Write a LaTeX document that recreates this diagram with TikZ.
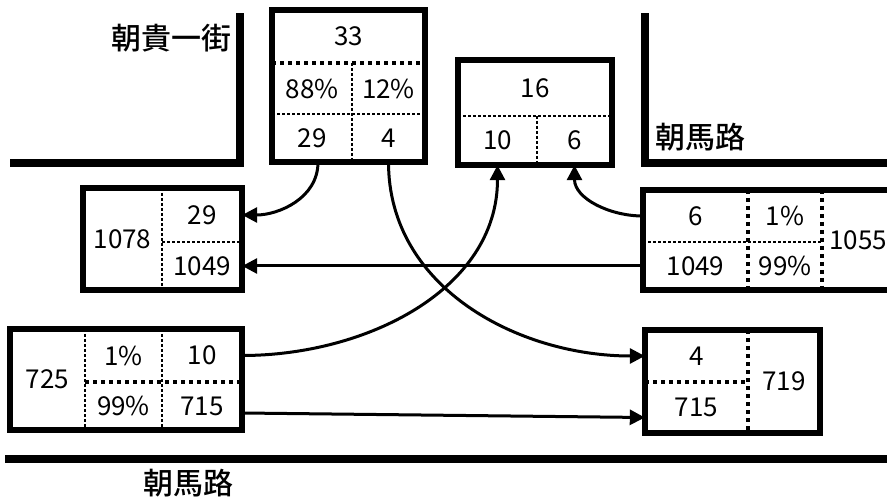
\documentclass[tikz,border=0pt]{standalone}
\usepackage{fontspec}
\newfontfamily\cjk{Noto Sans CJK TC}
\newfontfamily\cjkmed{Noto Sans CJK TC Medium}
\usetikzlibrary{arrows.meta}

\begin{document}
\begin{tikzpicture}[x=1pt,y=-1pt,
    street/.style={line width=8.5pt},
    boxline/.style={line width=6pt},
    dotrule/.style={line width=4pt, dash pattern=on 4pt off 4pt},
    dashrule/.style={line width=2.5pt, dash pattern=on 3pt off 2pt},
    cell/.style 2 args={inner sep=0pt, minimum width=#1pt, minimum height=#2pt,
        font=\cjk\fontsize{26}{26}\selectfont},
    road/.style={inner sep=0pt, font=\cjkmed\fontsize{30}{30}\selectfont},
    flow/.style={line width=3pt, -{Triangle[length=15pt,width=15pt]}}]
    % --- Frame (pixel units, y downwards) ---
    \useasboundingbox (0,0) rectangle (887,497);
    \clip (0,0) rectangle (887,497);

    % --- Streets ---
    \draw[street] (10,163) -- (240,163) -- (240,13);
    \draw[street] (887,163) -- (645,163) -- (645,13);
    \draw[street] (5,459) -- (887,459);
    \node[road] (streetA) at (171,38) {朝貴一街};
    \node[road] (streetB) at (700,137) {朝馬路};
    \node[road] (streetC) at (188,483) {朝馬路};

    % --- Box A (top, 33) ---
    \draw[boxline] (272,10) rectangle (425,162);
    \draw[dotrule] (272,63) -- (425,63);
    \draw[dashrule] (272,114) -- (425,114);
    \draw[dashrule] (352,63) -- (352,162);
    \node[cell={153}{53}] (a33) at (348.5,36.5) {33};
    \node[cell={80}{51}] (a88) at (312,88.5) {88\%};
    \node[cell={73}{51}] (a12) at (388.5,88.5) {12\%};
    \node[cell={80}{48}] (a29) at (312,138) {29};
    \node[cell={73}{48}] (a4) at (388.5,138) {4};

    % --- Box B (top, 16) ---
    \draw[boxline] (458,60) rectangle (612,165);
    \draw[dashrule] (458,116) -- (612,116);
    \draw[dashrule] (537,116) -- (537,165);
    \node[cell={154}{56}] (b16) at (535,88) {16};
    \node[cell={79}{49}] (b10) at (497.5,140.5) {10};
    \node[cell={75}{49}] (b6) at (574.5,140.5) {6};

    % --- Box C (left, 1078) ---
    \draw[boxline] (83,188) rectangle (242,290);
    \draw[dashrule] (162,188) -- (162,290);
    \draw[dashrule] (162,242) -- (242,242);
    \node[cell={79}{102}] (c1078) at (122.5,239) {1078};
    \node[cell={80}{54}] (c29) at (202,215) {29};
    \node[cell={80}{48}] (c1049) at (202,266) {1049};

    % --- Box D (left, 725) ---
    \draw[boxline] (10,329) rectangle (242,430);
    \draw[dashrule] (85,329) -- (85,430);
    \draw[dashrule] (162,329) -- (162,430);
    \draw[dotrule] (85,382) -- (242,382);
    \node[cell={75}{101}] (d725) at (47.5,379.5) {725};
    \node[cell={77}{53}] (d1) at (123.5,355.5) {1\%};
    \node[cell={80}{53}] (d10) at (202,355.5) {10};
    \node[cell={77}{48}] (d99) at (123.5,406) {99\%};
    \node[cell={80}{48}] (d715) at (202,406) {715};

    % --- Box E (right, 1055) ---
    \draw[boxline] (643,190) rectangle (900,290);
    \draw[dotrule] (748,190) -- (748,290);
    \draw[dotrule] (822,190) -- (822,290);
    \draw[dashrule] (643,242) -- (822,242);
    \node[cell={105}{52}] (e6) at (695.5,216) {6};
    \node[cell={74}{52}] (e1) at (785,216) {1\%};
    \node[cell={105}{48}] (e1049) at (695.5,266) {1049};
    \node[cell={74}{48}] (e99) at (785,266) {99\%};
    \node[cell={72}{100}] (e1055) at (858,240) {1055};

    % --- Box F (right, 719) ---
    \draw[boxline] (645,330) rectangle (820,433);
    \draw[dotrule] (748,330) -- (748,433);
    \draw[dotrule] (645,382) -- (748,382);
    \node[cell={103}{52}] (f4) at (696.5,356) {4};
    \node[cell={103}{51}] (f715) at (696.5,407.5) {715};
    \node[cell={72}{103}] (f719) at (784,381.5) {719};

    % --- Flows ---
    \draw[flow] ([xshift=6pt]a29.south) to[out=-90,in=0] (c29.east);
    \draw[flow] (a4.south) to[out=-90,in=180] (f4.west);
    \draw[flow] (d10.east) to[out=0,in=-90] (b10.south);
    \draw[flow] (e6.west) to[out=180,in=-90] (b6.south);
    \draw[flow] (e1049.west) -- (c1049.east);
    \draw[flow] ([yshift=-7pt]d715.east) -- ([yshift=-10pt]f715.west);
\end{tikzpicture}
\end{document}
